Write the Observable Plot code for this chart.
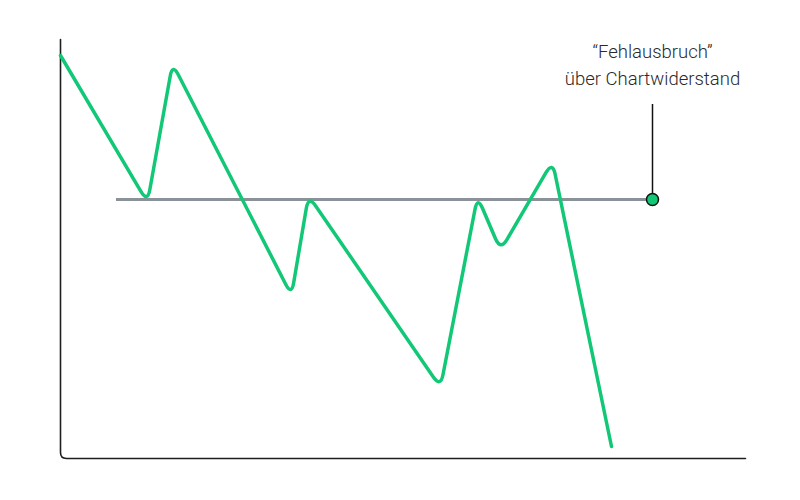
<!DOCTYPE html>
<html>
<head>
<meta charset="utf-8">
<script src="https://cdn.jsdelivr.net/npm/d3@7"></script>
<script src="https://cdn.jsdelivr.net/npm/@observablehq/plot@0.6"></script>
<style>
  html, body { margin: 0; padding: 0; background: #fff; }
  #chart svg { display: block; }
</style>
</head>
<body>
<div id="chart"></div>
<script>
// Price path (time index, price level)
const times  = [0, 87, 112, 231, 248, 380, 417, 440, 492, 551];
const prices = [403, 256, 395, 163, 263, 71, 262, 208, 297, 12];

// Resistance level and the false breakout point
const resistanceLevel = 259;
const resistanceStart = 56;
const breakoutTime = 592;
const annotationTop = 354;
const annotationTextY = 420;
const annotationLines = ["\u201cFehlausbruch\u201d", "über Chartwiderstand"];

// Axis frame (corner path)
const axisX = [0, 0, 685];
const axisY = [419, 0, 0];

const path = times.map((t, i) => ({t, p: prices[i]}));
const axisPath = axisX.map((x, i) => ({x, y: axisY[i]}));

// custom d3-style curve factory: straight segments with rounded corners
function roundedCurve(radius) {
  return function(context) {
    let pts = [];
    return {
      areaStart() {}, areaEnd() {},
      lineStart() { pts = []; },
      point(x, y) { pts.push([+x, +y]); },
      lineEnd() {
        if (!pts.length) return;
        context.moveTo(pts[0][0], pts[0][1]);
        for (let i = 1; i < pts.length - 1; i++) {
          const [px, py] = pts[i - 1], [cx, cy] = pts[i], [nx, ny] = pts[i + 1];
          const d1 = Math.hypot(px - cx, py - cy), d2 = Math.hypot(nx - cx, ny - cy);
          const r = Math.min(radius, d1 / 2, d2 / 2);
          const ax = cx + (px - cx) * r / d1, ay = cy + (py - cy) * r / d1;
          const bx = cx + (nx - cx) * r / d2, by = cy + (ny - cy) * r / d2;
          context.lineTo(ax, ay);
          context.quadraticCurveTo(cx, cy, bx, by);
        }
        const last = pts[pts.length - 1];
        context.lineTo(last[0], last[1]);
      }
    };
  };
}

const green = "#12c877";

const chart = Plot.plot({
  width: 800,
  height: 500,
  marginLeft: 60,
  marginRight: 55,
  marginTop: 39,
  marginBottom: 42,
  x: {domain: [0, 685], axis: null},
  y: {domain: [0, 419], axis: null},
  style: {background: "#fff", fontFamily: "Roboto, 'Open Sans', sans-serif"},
  marks: [
    Plot.line(axisPath, {x: "x", y: "y", stroke: "#1e1e1e", strokeWidth: 1.6, curve: roundedCurve(6)}),
    Plot.ruleY([resistanceLevel], {x1: resistanceStart, x2: breakoutTime, stroke: "#8b9199", strokeWidth: 3}),
    Plot.line(path, {x: "t", y: "p", stroke: green, strokeWidth: 3.5, strokeLinejoin: "round", strokeLinecap: "round", curve: roundedCurve(13)}),
    Plot.ruleX([breakoutTime], {y1: annotationTop, y2: resistanceLevel, stroke: "#111", strokeWidth: 1.5}),
    Plot.dot([{x: breakoutTime, y: resistanceLevel}], {x: "x", y: "y", r: 6, fill: green, stroke: "#111", strokeWidth: 1.5}),
    Plot.text([annotationLines.join("\n")], {x: breakoutTime, y: annotationTextY, lineAnchor: "top", lineHeight: 1.46, fontSize: 18.5, fontWeight: 300, fill: "#2a2a2a", textAnchor: "middle"})
  ]
});
document.getElementById("chart").appendChild(chart);
</script>
</body>
</html>
